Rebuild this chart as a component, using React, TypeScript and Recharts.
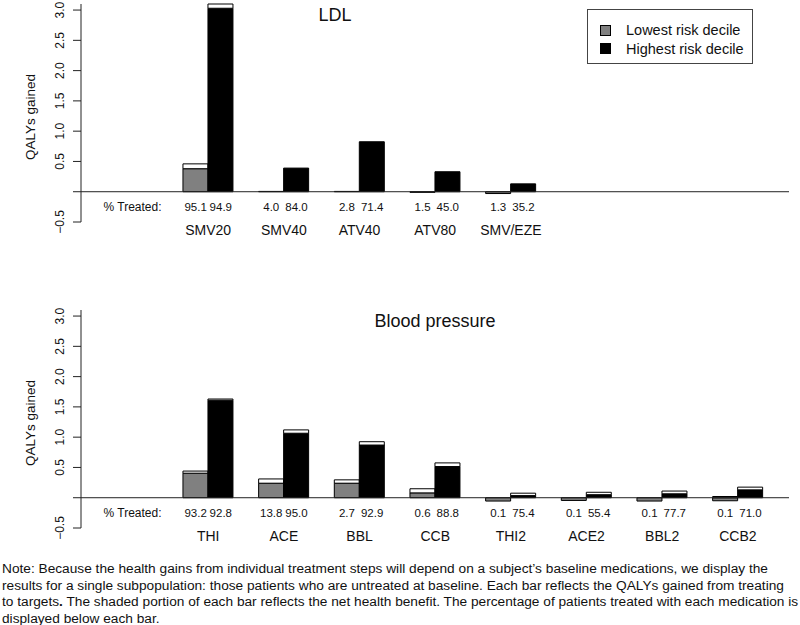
import React from 'react';
import { BarChart, Bar, XAxis, YAxis, ReferenceLine, Legend } from 'recharts';

const FONT = '"Liberation Sans", Arial, Helvetica, sans-serif';

// LDL panel
const ldlDrugs = ['SMV20', 'SMV40', 'ATV40', 'ATV80', 'SMV/EZE'];
const ldlLowNet = [0.38, 0.005, 0.005, -0.01, -0.03];
const ldlLowTotal = [0.46, 0.005, 0.005, 0, 0];
const ldlHighNet = [3.03, 0.39, 0.825, 0.33, 0.13];
const ldlHighTotal = [3.1, 0.39, 0.825, 0.33, 0.13];
const ldlLowPct = ['95.1', '4.0', '2.8', '1.5', '1.3'];
const ldlHighPct = ['94.9', '84.0', '71.4', '45.0', '35.2'];

// Blood pressure panel
const bpDrugs = ['THI', 'ACE', 'BBL', 'CCB', 'THI2', 'ACE2', 'BBL2', 'CCB2'];
const bpLowNet = [0.405, 0.24, 0.24, 0.08, -0.055, -0.045, -0.055, -0.05];
const bpLowTotal = [0.44, 0.31, 0.295, 0.148, 0, 0, 0, 0.02];
const bpHighNet = [1.61, 1.065, 0.87, 0.515, 0.035, 0.05, 0.065, 0.13];
const bpHighTotal = [1.63, 1.12, 0.925, 0.575, 0.075, 0.09, 0.11, 0.175];
const bpLowPct = ['93.2', '13.8', '2.7', '0.6', '0.1', '0.1', '0.1', '0.1'];
const bpHighPct = ['92.8', '95.0', '92.9', '88.8', '75.4', '55.4', '77.7', '71.0'];

const deciles = ['Lowest risk decile', 'Highest risk decile'];
const decileColors = ['#808080', '#000000'];
const yTicks = [-0.5, 0, 0.5, 1, 1.5, 2, 2.5, 3];
const SLOTS = 9;

const top = (net: number, total: number) => (net >= 0 ? total - net : total);

function buildRows(
  drugs: string[], lowNet: number[], lowTotal: number[], highNet: number[], highTotal: number[],
  lowPct: string[], highPct: string[]
) {
  const rows: any[] = [{ name: '' }];
  drugs.forEach((d, i) => {
    rows.push({
      name: d,
      lowNet: lowNet[i],
      lowTop: top(lowNet[i], lowTotal[i]),
      highNet: highNet[i],
      highTop: top(highNet[i], highTotal[i]),
      lowPct: lowPct[i],
      highPct: highPct[i],
    });
  });
  while (rows.length < SLOTS) rows.push({ name: '' });
  return rows;
}

const ldlRows = buildRows(ldlDrugs, ldlLowNet, ldlLowTotal, ldlHighNet, ldlHighTotal, ldlLowPct, ldlHighPct);
const bpRows = buildRows(bpDrugs, bpLowNet, bpLowTotal, bpHighNet, bpHighTotal, bpLowPct, bpHighPct);

const CatTick = (props: any) => {
  const { x, y, index, rows } = props;
  const r = rows[index];
  if (index === 0) {
    return (
      <text x={x} y={y - 15} textAnchor="middle" dominantBaseline="central" fontSize={12} fontFamily={FONT} fill="#111">
        % Treated:
      </text>
    );
  }
  if (!r || !r.name) return null;
  return (
    <g fontFamily={FONT} fill="#111">
      <text x={x - 12.6} y={y - 15} textAnchor="middle" dominantBaseline="central" fontSize={11.5}>{r.lowPct}</text>
      <text x={x + 12.6} y={y - 15} textAnchor="middle" dominantBaseline="central" fontSize={11.5}>{r.highPct}</text>
      <text x={x} y={y + 8} textAnchor="middle" dominantBaseline="central" fontSize={14}>{r.name}</text>
    </g>
  );
};

const ValTick = (props: any) => {
  const { x, y, payload } = props;
  if (payload.value === 0) return null;
  const v = payload.value < 0 ? '\u2212' + Math.abs(payload.value).toFixed(1) : payload.value.toFixed(1);
  const cx = x - 11;
  return (
    <text x={cx} y={y} transform={`rotate(-90, ${cx}, ${y})`} textAnchor="middle" dominantBaseline="central"
      fontSize={12} fontFamily={FONT} fill="#111">
      {v}
    </text>
  );
};

const YLab = (props: any) => {
  const vb = props.viewBox || {};
  const cy = (vb.y ?? 0) + (vb.height ?? 0) / 2 + 4;
  return (
    <text x={30} y={cy} transform={`rotate(-90, 30, ${cy})`} textAnchor="middle" dominantBaseline="central"
      fontSize={13.5} fontFamily={FONT} fill="#111">
      QALYs gained
    </text>
  );
};

const LegendBox = () => (
  <div style={{ width: 164, height: 53, border: '1px solid #444', background: '#fff', fontFamily: FONT, fontSize: 14.5, color: '#111', position: 'relative' }}>
    {deciles.map((d, i) => (
      <div key={d} style={{ position: 'absolute', left: 12, top: 11 + i * 18.5, height: 18, display: 'flex', alignItems: 'center' }}>
        <span style={{ width: 9, height: 9, background: decileColors[i], border: '1px solid #000', display: 'inline-block' }} />
        <span style={{ marginLeft: 15, whiteSpace: 'nowrap' }}>{d}</span>
      </div>
    ))}
  </div>
);

const Panel = ({ rows, title, titleX, y, legend }: any) => (
  <div style={{ position: 'absolute', left: 0, top: y, width: 800, height: 250 }}>
    <BarChart width={800} height={250} data={rows} stackOffset="sign" barCategoryGap={12.6} barGap={0}
      margin={{ top: 4, right: 11, bottom: 8, left: 0 }}>
      <XAxis dataKey="name" axisLine={false} tickLine={false} tickSize={0} tickMargin={0} height={20}
        interval={0} padding={{ left: 13.7, right: 13.3 }} tick={<CatTick rows={rows} />} />
      <YAxis type="number" domain={[-0.5, 3.1]} ticks={yTicks} interval={0} width={81} tickSize={8} tickMargin={2}
        axisLine={{ stroke: '#222' }} tickLine={{ stroke: '#222' }} tick={<ValTick />} label={<YLab />} />
      <Bar dataKey="lowNet" stackId="low" fill={decileColors[0]} stroke="#000" strokeWidth={1} isAnimationActive={false} />
      <Bar dataKey="lowTop" stackId="low" fill="#fff" stroke="#000" strokeWidth={1} isAnimationActive={false} />
      <Bar dataKey="highNet" stackId="high" fill={decileColors[1]} stroke="#000" strokeWidth={1} isAnimationActive={false} />
      <Bar dataKey="highTop" stackId="high" fill="#fff" stroke="#000" strokeWidth={1} isAnimationActive={false} />
      <ReferenceLine y={0} stroke="#222" strokeWidth={1} />
      {legend && (
        <Legend layout="vertical" align="center" verticalAlign="middle" content={() => <LegendBox />}
          wrapperStyle={{ left: 587, top: 9, width: 166 }} />
      )}
    </BarChart>
    <div style={{ position: 'absolute', left: titleX - 100, width: 200, top: 5, textAlign: 'center', fontFamily: FONT, fontSize: 18, color: '#111' }}>
      {title}
    </div>
  </div>
);

export default function App() {
  return (
    <div style={{ position: 'absolute', left: 0, top: 0, width: 800, height: 625, background: '#fff', overflow: 'hidden' }}>
      <Panel rows={ldlRows} title="LDL" titleX={335} y={0} legend />
      <Panel rows={bpRows} title="Blood pressure" titleX={435} y={306} />
      <div style={{ position: 'absolute', left: 2, top: 561, width: 798, fontFamily: FONT, fontSize: 13.7, lineHeight: '16.6px', color: '#111', whiteSpace: 'nowrap' }}>
        <div>Note: Because the health gains from individual treatment steps will depend on a subject’s baseline medications, we display the</div>
        <div>results for a single subpopulation: those patients who are untreated at baseline. Each bar reflects the QALYs gained from treating</div>
        <div>to targets<b>.</b> The shaded portion of each bar reflects the net health benefit. The percentage of patients treated with each medication is</div>
        <div>displayed below each bar.</div>
      </div>
    </div>
  );
}
